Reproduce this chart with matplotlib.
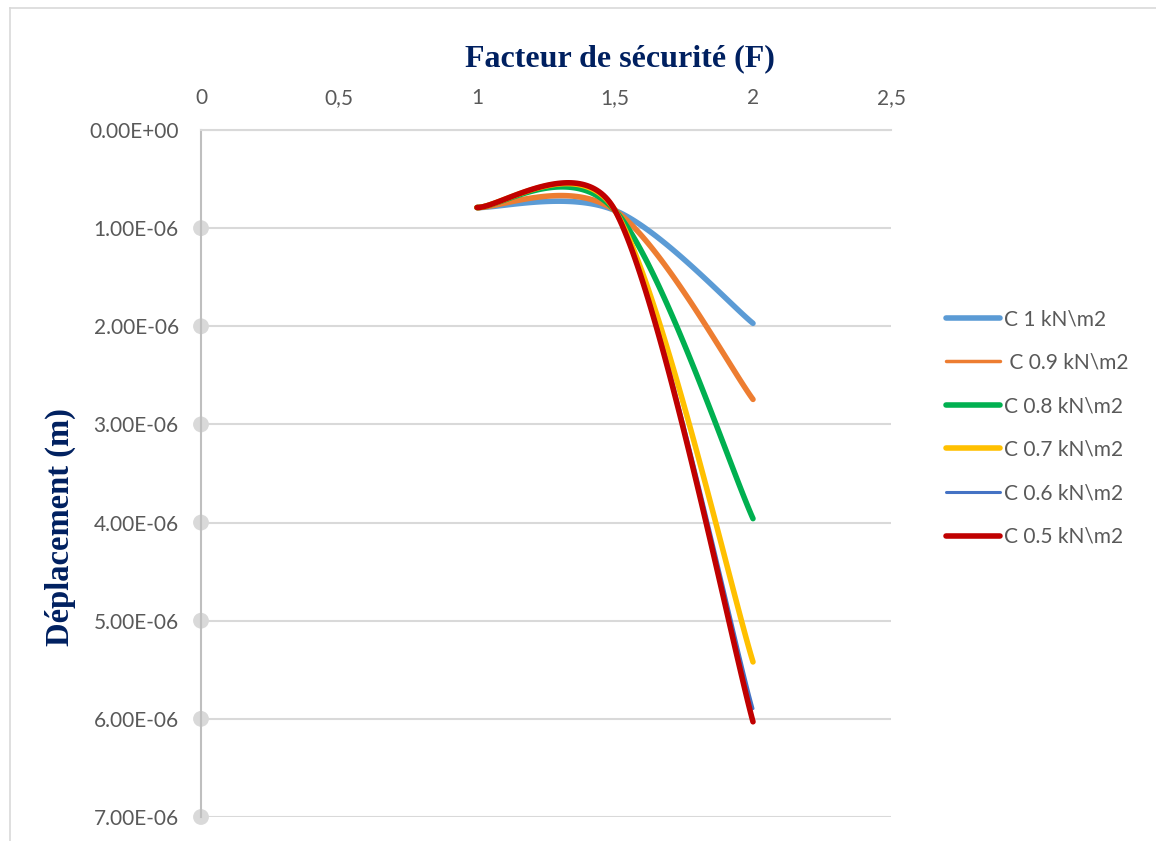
import numpy as np
import matplotlib
matplotlib.use("Agg")
import matplotlib.pyplot as plt
from matplotlib.lines import Line2D

# ---- data ----
facteur = [1.0, 1.5, 2.0]
labels = ["C 1 kN\\m2", " C 0.9 kN\\m2", "C 0.8 kN\\m2", "C 0.7 kN\\m2",
          "C 0.6 kN\\m2", "C 0.5 kN\\m2"]
c_1_0 = [7.9e-7, 8.2e-7, 1.97e-6]
c_0_9 = [7.9e-7, 8.2e-7, 2.745e-6]
c_0_8 = [7.9e-7, 8.2e-7, 3.96e-6]
c_0_7 = [7.9e-7, 8.2e-7, 5.42e-6]
c_0_6 = [7.9e-7, 8.2e-7, 5.895e-6]
c_0_5 = [7.9e-7, 8.2e-7, 6.03e-6]
series = [c_1_0, c_0_9, c_0_8, c_0_7, c_0_6, c_0_5]
colors = ["#5B9BD5", "#ED7D31", "#00B050", "#FFC000", "#4472C4", "#C00000"]
widths = [4.0, 4.0, 4.0, 4.0, 2.2, 4.0]
leg_widths = [4.0, 2.5, 4.0, 4.0, 2.2, 4.0]
xticks = [0, 0.5, 1, 1.5, 2, 2.5]
xticklabels = ["0", "0,5", "1", "1,5", "2", "2,5"]
yticks = [0, 1e-6, 2e-6, 3e-6, 4e-6, 5e-6, 6e-6, 7e-6]
yticklabels = ["0.00E+00", "1.00E-06", "2.00E-06", "3.00E-06", "4.00E-06",
               "5.00E-06", "6.00E-06", "7.00E-06"]

W, H = 1156, 841
fig = plt.figure(figsize=(W / 100, H / 100), dpi=100)
ax = fig.add_axes([201 / W, 1 - 817 / H, 690 / W, 687 / H])
ax.set_xlim(0, 2.5)
ax.set_ylim(7e-6, 0)

fontname = "Lato"
tickcol = "#595959"
navy = "#002060"


def excel_smooth(xs, ys, n=60):
    """Excel-like smoothed line (Bezier with clamped Catmull-Rom tangents) in display space."""
    pts = ax.transData.transform(np.column_stack([xs, ys]))
    m = len(pts)
    out = []
    for i in range(m - 1):
        p0 = pts[i - 1] if i > 0 else pts[i]
        p1 = pts[i]
        p2 = pts[i + 1]
        p3 = pts[i + 2] if i + 2 < m else pts[i + 1]
        d12 = np.linalg.norm(p2 - p1)
        d02 = np.linalg.norm(p2 - p0)
        d13 = np.linalg.norm(p3 - p1)
        f1 = min(1 / 6, d12 / (2 * d02)) if d02 > 0 else 0
        f2 = min(1 / 6, d12 / (2 * d13)) if d13 > 0 else 0
        c1 = p1 + (p2 - p0) * f1
        c2 = p2 - (p3 - p1) * f2
        t = np.linspace(0, 1, n)[:, None]
        seg = ((1 - t) ** 3) * p1 + 3 * ((1 - t) ** 2) * t * c1 + 3 * (1 - t) * t ** 2 * c2 + t ** 3 * p2
        out.append(seg if i == 0 else seg[1:])
    out = np.vstack(out)
    data = ax.transData.inverted().transform(out)
    return data[:, 0], data[:, 1]


for s, c, w, lab in zip(series, colors, widths, labels):
    sx, sy = excel_smooth(facteur, s)
    ax.plot(sx, sy, color=c, lw=w, solid_capstyle="round", label=lab, zorder=3)

# axes styling
for side in ["right", "bottom"]:
    ax.spines[side].set_visible(False)
ax.spines["left"].set_color("#BFBFBF")
ax.spines["left"].set_linewidth(1.5)
ax.spines["top"].set_color("#D9D9D9")
ax.spines["top"].set_linewidth(1.5)
ax.xaxis.tick_top()
ax.set_xticks(xticks)
ax.set_xticklabels(xticklabels, fontname=fontname, fontsize=15, color=tickcol)
ax.set_yticks(yticks)
ax.set_yticklabels(yticklabels, fontname=fontname, fontsize=15, color=tickcol)
ax.tick_params(axis="x", length=0, pad=16)
ax.tick_params(axis="y", length=0, pad=16)
ax.yaxis.grid(True, color="#D9D9D9", lw=1.5)
ax.set_axisbelow(True)
ax.scatter([0] * (len(yticks) - 1), yticks[1:], s=130, color="#D9D9D9",
           clip_on=False, zorder=2, edgecolors="none")

# titles
fig.text(620 / W, 1 - 59 / H, "Facteur de sécurité (F)", ha="center", va="center",
         fontfamily="Liberation Serif", fontweight="bold", fontsize=23, color=navy)
fig.text(60 / W, 1 - 527 / H, "Déplacement (m)", ha="center", va="center", rotation=90,
         fontfamily="Liberation Serif", fontweight="bold", fontsize=23.5, color=navy)

# legend
handles = [Line2D([0], [0], color=c, lw=w, solid_capstyle="round") for c, w in zip(colors, leg_widths)]
leg = fig.legend(handles, labels, loc="center left", bbox_to_anchor=(946 / W, 1 - 428 / H),
                 frameon=False, prop={"family": fontname, "size": 15},
                 handlelength=2.6, handletextpad=0.2, labelspacing=1.13,
                 borderaxespad=0, borderpad=0)
for t in leg.get_texts():
    t.set_color(tickcol)

# chart border (top and left)
fig.add_artist(Line2D([10 / W, 10 / W], [0, 1 - 8 / H], transform=fig.transFigure,
                      color="#D9D9D9", lw=1.2))
fig.add_artist(Line2D([10 / W, 1], [1 - 8 / H, 1 - 8 / H], transform=fig.transFigure,
                      color="#D9D9D9", lw=1.2))

fig.savefig("out.png", dpi=100)
